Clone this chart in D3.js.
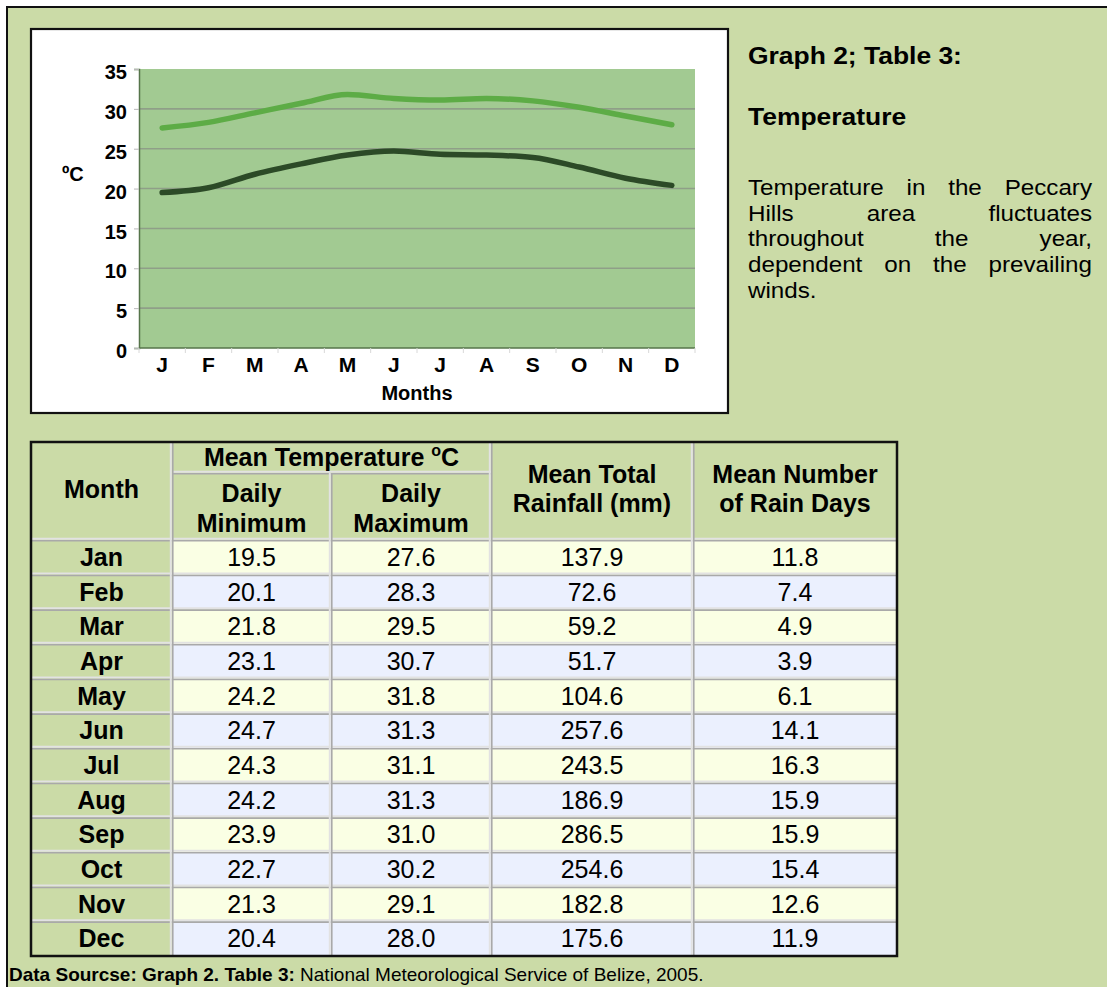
<!DOCTYPE html>
<html><head><meta charset="utf-8">
<script src="https://cdn.jsdelivr.net/npm/d3@7"></script>
<style>
body{margin:0;background:#fff}
svg{display:block}
text{font-family:"Liberation Sans",Arial,Helvetica,sans-serif;fill:#000}
</style>
</head><body>
<svg id="c" width="1107" height="987"></svg>
<script>
// ---------------- data ----------------
const months = ["Jan","Feb","Mar","Apr","May","Jun","Jul","Aug","Sep","Oct","Nov","Dec"];
const monthInitials = ["J","F","M","A","M","J","J","A","S","O","N","D"];
const dailyMin = [19.5,20.1,21.8,23.1,24.2,24.7,24.3,24.2,23.9,22.7,21.3,20.4];
const dailyMax = [27.6,28.3,29.5,30.7,31.8,31.3,31.1,31.3,31.0,30.2,29.1,28.0];
const rainfall = [137.9,72.6,59.2,51.7,104.6,257.6,243.5,186.9,286.5,254.6,182.8,175.6];
const rainDays = [11.8,7.4,4.9,3.9,6.1,14.1,16.3,15.9,15.9,15.4,12.6,11.9];
const yTicks = [0,5,10,15,20,25,30,35];
const gridTicks = [5,10,15,20,25,30];
const titleText = "Graph 2; Table 3:";
const subTitle = "Temperature";
const paraLines = ["Temperature in the Peccary","Hills area fluctuates","throughout the year,","dependent on the prevailing","winds."];
const sourceBold = "Data Sourcse: Graph 2. Table 3:";
const sourceRest = " National Meteorological Service of Belize, 2005.";

// ---------------- colours ----------------
const BG = "#CBDBA7", PLOT = "#A2CA92", MAXC = "#5DAC46", MINC = "#2C4A27";
const YEL = "#FAFFE4", BLU = "#EBF0FE";

const svg = d3.select("#c");

// page background
svg.append("rect").attr("x",7).attr("y",7).attr("width",1120).attr("height",1000)
  .attr("fill",BG).attr("stroke","#111").attr("stroke-width",2);

// ---------------- chart ----------------
svg.append("rect").attr("x",31).attr("y",29).attr("width",697).attr("height",384)
  .attr("fill","#fff").attr("stroke","#111").attr("stroke-width",2.2);

const PL=139, PR=695, PT=69, PB=348;
const x = d3.scalePoint().domain(d3.range(12)).range([PL,PR]).padding(0.5);
const xb = d3.scaleBand().domain(d3.range(12)).range([PL,PR]);
const y = d3.scaleLinear().domain([0,35]).range([PB,PT]);

svg.append("rect").attr("x",PL).attr("y",PT).attr("width",PR-PL).attr("height",PB-PT).attr("fill",PLOT);

svg.append("g").selectAll("line").data(gridTicks).join("line")
  .attr("x1",PL).attr("x2",PR).attr("y1",d=>y(d)).attr("y2",d=>y(d))
  .attr("stroke","#8f9f88").attr("stroke-width",1.6);

// y axis
const ya = svg.append("g").attr("transform",`translate(${PL},0)`)
  .call(d3.axisLeft(y).tickValues(yTicks).tickSize(5).tickPadding(7));
ya.select(".domain").attr("stroke","#56744a").attr("stroke-width",1.5);
ya.selectAll(".tick line").attr("stroke","#b8b8b8");
ya.selectAll(".tick text").attr("font-size",20).attr("font-weight","bold")
  .attr("font-family","'Liberation Sans',Arial,sans-serif").attr("dy","0.48em").attr("fill","#000");

// x axis (ticks at category boundaries, labels at centres)
const xa = svg.append("g").attr("transform",`translate(0,${PB})`);
xa.append("line").attr("x1",PL).attr("x2",PR).attr("stroke","#56744a").attr("stroke-width",1.5);
xa.selectAll("line.tk").data(d3.range(13)).join("line").attr("class","tk")
  .attr("x1",i=>PL+i*xb.bandwidth()).attr("x2",i=>PL+i*xb.bandwidth())
  .attr("y1",0).attr("y2",5).attr("stroke","#d8d8d8").attr("stroke-width",1);
xa.selectAll("text").data(monthInitials).join("text")
  .attr("x",(d,i)=>x(i)).attr("y",24).attr("text-anchor","middle")
  .attr("font-size",21).attr("font-weight","bold").text(d=>d);

svg.append("text").attr("x",(PL+PR)/2).attr("y",400).attr("text-anchor","middle")
  .attr("font-size",20).attr("font-weight","bold").text("Months");
svg.append("text").attr("x",62).attr("y",181)
  .attr("font-size",20).attr("font-weight","bold").text("\u00BAC");

// lines
const line = d3.line().x((d,i)=>x(i)).y(d=>y(d)).curve(d3.curveMonotoneX);
svg.append("path").datum(dailyMax).attr("d",line).attr("fill","none")
  .attr("stroke",MAXC).attr("stroke-width",5.5).attr("stroke-linecap","round");
svg.append("path").datum(dailyMin).attr("d",line).attr("fill","none")
  .attr("stroke",MINC).attr("stroke-width",5.5).attr("stroke-linecap","round");

// ---------------- right-hand text ----------------
const TX = 748, TR = 1092;
const tt = svg.append("g").attr("transform",`translate(${TX},0) scale(1.15,1)`);
tt.append("text").attr("x",0).attr("y",64).attr("font-size",23).attr("font-weight","bold").text(titleText);
tt.append("text").attr("x",0).attr("y",125).attr("font-size",23).attr("font-weight","bold").text(subTitle);
const SX = 1.1;
const rt = svg.append("g").attr("transform",`translate(${TX},0) scale(${SX},1)`);
const LW = (TR-TX)/SX;
paraLines.forEach((ln,li)=>{
  const by = 195 + li*25.7;
  const words = ln.split(" ");
  if (li === paraLines.length-1) {
    rt.append("text").attr("x",0).attr("y",by).attr("font-size",22).text(ln);
    return;
  }
  const nodes = words.map(w=>rt.append("text").attr("y",by).attr("font-size",22).text(w));
  const widths = nodes.map(n=>n.node().getComputedTextLength());
  const gap = (LW-d3.sum(widths))/(words.length-1);
  let cx = 0;
  nodes.forEach((n,i)=>{ n.attr("x",cx); cx += widths[i]+gap; });
});

// ---------------- table ----------------
const cols = [31,172,331,491,693,897];
const TT = 442, TM = 473, TH = 540, TB = 956;
const rows = d3.scaleBand().domain(months).range([TH,TB]);
const tg = svg.append("g");

tg.append("rect").attr("x",cols[0]).attr("y",TT).attr("width",cols[5]-cols[0]).attr("height",TB-TT).attr("fill",BG);
months.forEach((m,i)=>{
  tg.append("rect").attr("x",cols[1]).attr("y",rows(m)).attr("width",cols[5]-cols[1])
    .attr("height",rows.bandwidth()).attr("fill",i%2===0?YEL:BLU);
});

function hsep(x1,x2,yy){
  tg.append("line").attr("x1",x1).attr("x2",x2).attr("y1",yy-1.2).attr("y2",yy-1.2).attr("stroke","#e2e2e2").attr("stroke-width",2);
  tg.append("line").attr("x1",x1).attr("x2",x2).attr("y1",yy+0.8).attr("y2",yy+0.8).attr("stroke","#a9a9a9").attr("stroke-width",1.6);
}
function vsep(xx,y1,y2){
  tg.append("line").attr("x1",xx-1.2).attr("x2",xx-1.2).attr("y1",y1).attr("y2",y2).attr("stroke","#e2e2e2").attr("stroke-width",2);
  tg.append("line").attr("x1",xx+0.8).attr("x2",xx+0.8).attr("y1",y1).attr("y2",y2).attr("stroke","#a9a9a9").attr("stroke-width",1.6);
}
months.forEach((m,i)=>{ if(i>0) hsep(cols[0],cols[5],rows(m)); });
hsep(cols[0],cols[5],TH);
hsep(cols[1],cols[3],TM);
vsep(cols[1],TT,TB); vsep(cols[3],TT,TB); vsep(cols[4],TT,TB); vsep(cols[2],TM,TB);
tg.append("rect").attr("x",cols[0]).attr("y",TT).attr("width",cols[5]-cols[0]).attr("height",TB-TT)
  .attr("fill","none").attr("stroke","#111").attr("stroke-width",2.5);

const FS = 25;
function ctext(txt,cx,by,bold){
  return tg.append("text").attr("x",cx).attr("y",by).attr("text-anchor","middle")
    .attr("font-size",FS).attr("font-weight",bold?"bold":"normal").text(txt);
}
const mid = (a,b)=>(a+b)/2;
ctext("Month",mid(cols[0],cols[1]),498,true);
const mt = tg.append("text").attr("x",mid(cols[1],cols[3])).attr("y",466).attr("text-anchor","middle")
  .attr("font-size",FS).attr("font-weight","bold");
mt.append("tspan").text("Mean Temperature ");
mt.append("tspan").attr("font-size",16).attr("dy",-10).text("o");
mt.append("tspan").attr("dy",10).text("C");
ctext("Daily",mid(cols[1],cols[2]),502,true);
ctext("Minimum",mid(cols[1],cols[2]),532,true);
ctext("Daily",mid(cols[2],cols[3]),502,true);
ctext("Maximum",mid(cols[2],cols[3]),532,true);
ctext("Mean Total",mid(cols[3],cols[4]),483,true);
ctext("Rainfall (mm)",mid(cols[3],cols[4]),512,true);
ctext("Mean Number",mid(cols[4],cols[5]),483,true);
ctext("of Rain Days",mid(cols[4],cols[5]),512,true);

months.forEach((m,i)=>{
  const by = rows(m)+26;
  ctext(m,mid(cols[0],cols[1]),by,true);
  ctext(dailyMin[i].toFixed(1),mid(cols[1],cols[2]),by,false);
  ctext(dailyMax[i].toFixed(1),mid(cols[2],cols[3]),by,false);
  ctext(rainfall[i].toFixed(1),mid(cols[3],cols[4]),by,false);
  ctext(rainDays[i].toFixed(1),mid(cols[4],cols[5]),by,false);
});

// ---------------- source line ----------------
const src = svg.append("text").attr("x",9).attr("y",981).attr("font-size",19);
src.append("tspan").attr("font-weight","bold").text(sourceBold);
src.append("tspan").text(sourceRest);
</script>
</body></html>
